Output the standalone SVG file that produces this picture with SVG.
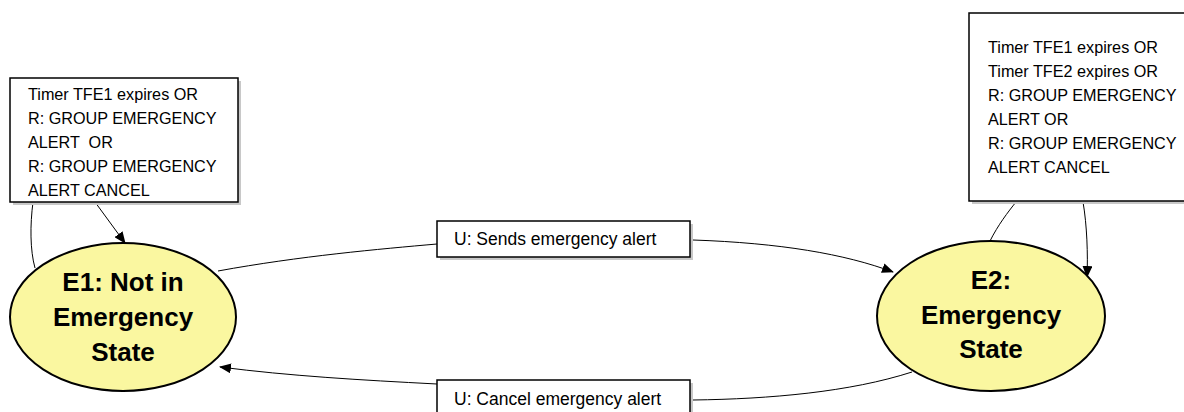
<svg xmlns="http://www.w3.org/2000/svg" width="1184" height="412" viewBox="0 0 1184 412">
<defs>
<marker id="arr" markerWidth="12" markerHeight="10" refX="11" refY="5" orient="auto" markerUnits="userSpaceOnUse">
<path d="M0,0 L12,5 L0,10 Z" fill="#000"/>
</marker>
<style>
.box{fill:#fff;stroke:#000;stroke-width:1.5}
.shadow{fill:#c8c8c8}
.st{fill:#FAF7A0;stroke:#000;stroke-width:2}
.t{font-family:"Liberation Sans",Arial,sans-serif;font-size:16.2px;fill:#000}
.l{font-family:"Liberation Sans",Arial,sans-serif;font-size:17.5px;fill:#000}
.s{font-family:"Liberation Sans",Arial,sans-serif;font-size:26px;font-weight:bold;fill:#000;text-anchor:middle}
.c{fill:none;stroke:#000;stroke-width:1}
</style>
</defs>
<rect width="1184" height="412" fill="#fff"/>
<g id="connectors">
<path class="c" d="M218,271 C300,256 380,249 437,244"/>
<path class="c" d="M693,240 C780,243 845,254 893,272" marker-end="url(#arr)"/>
<path class="c" d="M912,372 C850,392 770,399 693,400"/>
<path class="c" d="M437,384 C360,380 290,376 220,367" marker-end="url(#arr)"/>
<path class="c" d="M35,268 C30,250 30,225 33,202"/>
<path class="c" d="M95,202 L125,243" marker-end="url(#arr)"/>
<path class="c" d="M990,241 C998,225 1008,212 1016,202"/>
<path class="c" d="M1083,202 C1087,225 1088,255 1087,277" marker-end="url(#arr)"/>
</g>
<g id="E1">
<ellipse class="st" cx="123" cy="317" rx="113" ry="74"/>
<text class="s" x="123" y="291">E1: Not in</text>
<text class="s" x="123" y="326">Emergency</text>
<text class="s" x="123" y="361">State</text>
</g>
<g id="E2">
<ellipse class="st" cx="991" cy="316" rx="114" ry="75"/>
<text class="s" x="991" y="289">E2:</text>
<text class="s" x="991" y="324">Emergency</text>
<text class="s" x="991" y="358">State</text>
</g>
<g id="box1">
<rect class="shadow" x="13" y="81" width="228" height="124"/>
<rect class="box" x="10" y="78" width="228" height="124"/>
<text class="t" x="28" y="100">Timer TFE1 expires OR</text>
<text class="t" x="28" y="124">R: GROUP EMERGENCY</text>
<text class="t" x="28" y="148" style="white-space:pre">ALERT  OR</text>
<text class="t" x="28" y="172">R: GROUP EMERGENCY</text>
<text class="t" x="28" y="196">ALERT CANCEL</text>
</g>
<g id="box2">
<rect class="shadow" x="972" y="16" width="220" height="188"/>
<rect class="box" x="969" y="13" width="220" height="188"/>
<text class="t" x="988" y="53">Timer TFE1 expires OR</text>
<text class="t" x="988" y="77">Timer TFE2 expires OR</text>
<text class="t" x="988" y="101">R: GROUP EMERGENCY</text>
<text class="t" x="988" y="125">ALERT OR</text>
<text class="t" x="988" y="149">R: GROUP EMERGENCY</text>
<text class="t" x="988" y="173">ALERT CANCEL</text>
</g>
<g id="lbl_send">
<rect class="shadow" x="440" y="224" width="253" height="36"/>
<rect class="box" x="437" y="221" width="253" height="36"/>
<text class="l" x="454" y="245">U: Sends emergency alert</text>
</g>
<g id="lbl_cancel">
<rect class="shadow" x="440" y="383" width="253" height="36"/>
<rect class="box" x="437" y="380" width="253" height="36"/>
<text class="l" x="454" y="405">U: Cancel emergency alert</text>
</g>
</svg>
